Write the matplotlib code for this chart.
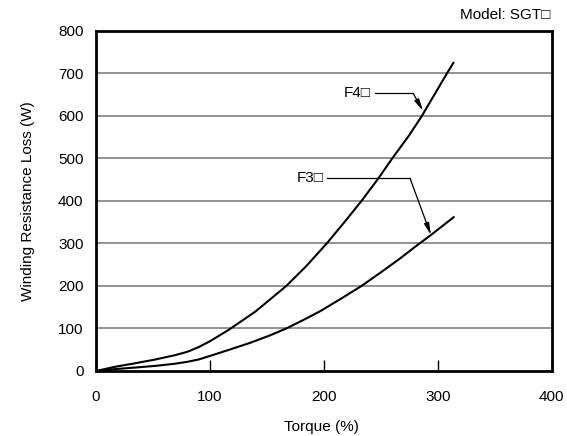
import matplotlib
matplotlib.use("Agg")
import matplotlib.pyplot as plt

plt.rcParams['font.family'] = ['Liberation Sans', 'DejaVu Sans']

# Data
f4_torque = [0, 17, 34, 52, 69, 80, 90, 100, 116, 140, 167, 185, 202.5, 218, 233, 247, 260, 275, 286, 297, 308, 313.7]
f4_loss   = [0, 10, 18, 27, 37, 45, 56, 70, 96, 140, 200, 248, 300, 350, 400, 450, 500, 555, 600, 650, 700, 725]
f3_torque = [0, 17, 34, 52, 69, 80, 90, 102, 118, 135, 152, 167, 182, 197, 215, 233, 250, 267, 280, 294, 304, 314]
f3_loss   = [0, 4.5, 8, 12, 17, 21.5, 27, 37, 51, 66, 83, 100, 120, 141, 170, 200, 232, 265, 292, 320, 341, 362]

x_ticks = [0, 100, 200, 300, 400]
y_ticks = [0, 100, 200, 300, 400, 500, 600, 700, 800]

# Annotation anchors (label position, elbow start, elbow end, arrow tip)
f4_label = (241, 653)
f4_elbow = [(245, 653), (278.5, 653)]
f4_tip = (287, 612)
f3_label = (199.5, 453)
f3_elbow = [(203, 453), (275.7, 453)]
f3_tip = (294, 320)

fig = plt.figure(figsize=(5.67, 4.36), dpi=100)
ax = fig.add_axes([0.1693, 0.1491, 0.9730 - 0.1693, 0.9289 - 0.1491])

ax.set_xlim(0, 400)
ax.set_ylim(0, 800)
ax.set_xticks(x_ticks)
ax.set_yticks(y_ticks)

for y in y_ticks[1:-1]:
    ax.axhline(y, color='#808080', lw=1.2, zorder=1)

ax.plot(f4_torque, f4_loss, color='black', lw=1.5, zorder=3)
ax.plot(f3_torque, f3_loss, color='black', lw=1.5, zorder=3)

for lab, text, elbow, tip in [(f4_label, 'F4□', f4_elbow, f4_tip),
                              (f3_label, 'F3□', f3_elbow, f3_tip)]:
    ax.text(lab[0], lab[1], text, ha='right', va='center', fontsize=11, zorder=4)
    ax.plot([elbow[0][0], elbow[1][0]], [elbow[0][1], elbow[1][1]], color='black', lw=0.9, zorder=4)
    ax.annotate('', xy=tip, xytext=elbow[1],
                arrowprops=dict(arrowstyle='-|>,head_length=0.7,head_width=0.15',
                                color='black', lw=0.9, shrinkA=0, shrinkB=0), zorder=4)

for s in ax.spines.values():
    s.set_linewidth(2)
    s.set_color('black')

ax.tick_params(axis='x', direction='in', length=8, width=1, pad=14, labelsize=11)
ax.tick_params(axis='y', length=0, pad=9, labelsize=11)
ax.tick_params(axis='x', which='both', top=False)

ax.set_xlabel('Torque (%)', fontsize=11, va='center')
ax.xaxis.set_label_coords(0.495, -0.165)
ax.set_ylabel('Winding Resistance Loss (W)', fontsize=11, va='center')
ax.yaxis.set_label_coords(-0.149, 0.5)

fig.text(0.970, 0.965, 'Model: SGT□', ha='right', va='center', fontsize=11)

fig.savefig('out.png', dpi=100)
